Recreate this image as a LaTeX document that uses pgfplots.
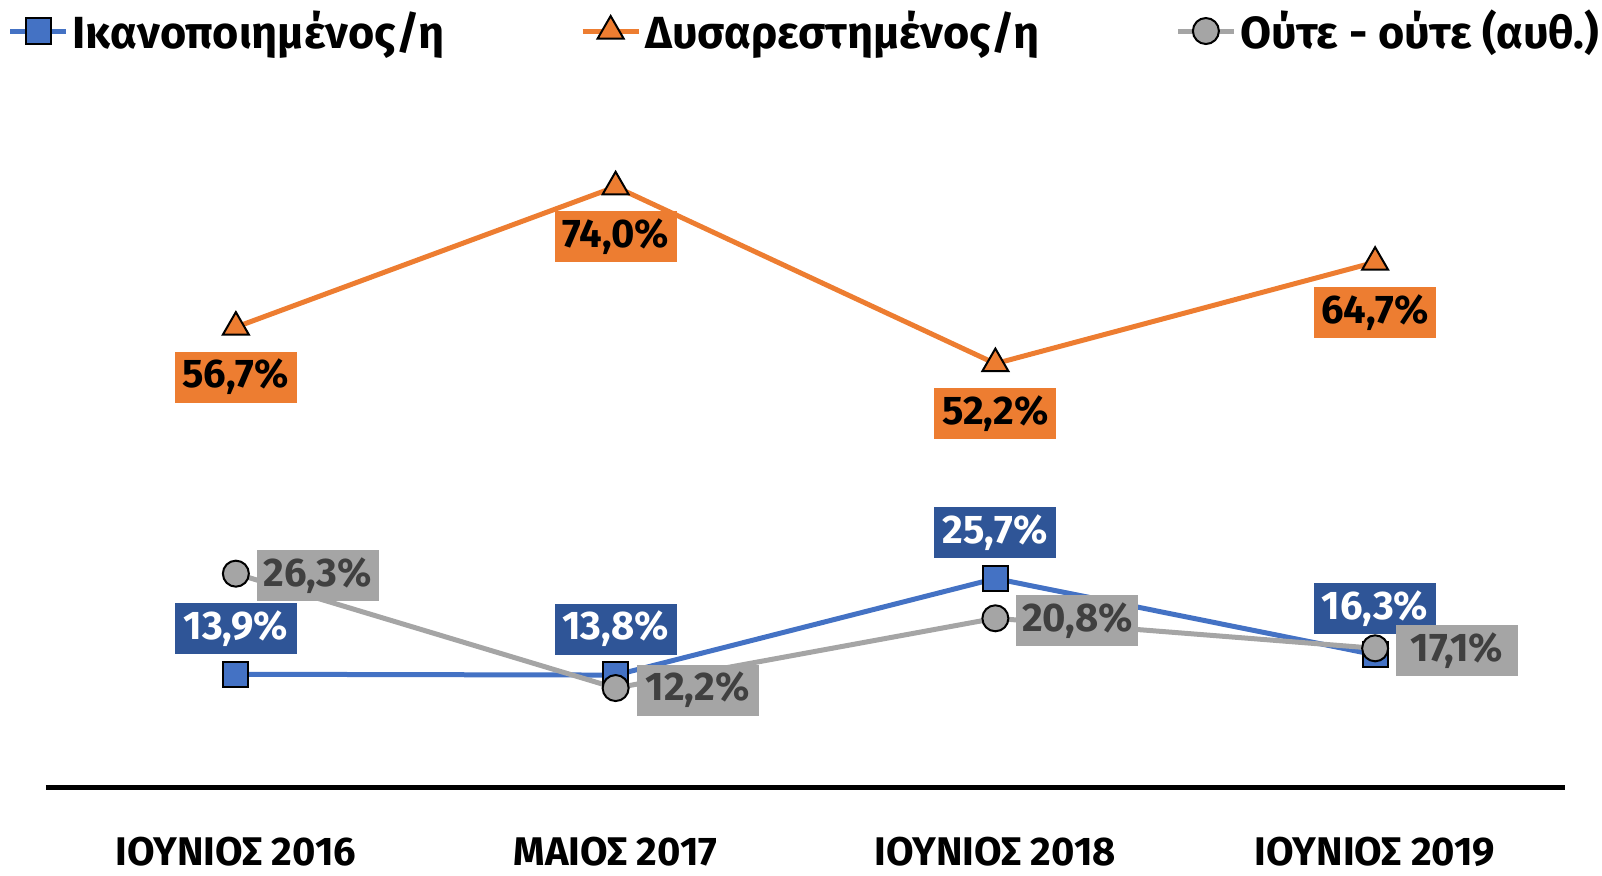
\documentclass[border=0pt]{standalone}
\usepackage{fontspec}
\setmainfont{Fira Sans}
\usepackage{pgfplots}
\pgfplotsset{compat=1.18}
\definecolor{cblue}{HTML}{4472C4}
\definecolor{cblueD}{HTML}{2F5597}
\definecolor{corange}{HTML}{ED7D31}
\definecolor{cgray}{HTML}{A5A5A5}
\definecolor{cgrayT}{HTML}{404040}
\begin{document}
\begin{tikzpicture}
\useasboundingbox (0,0) rectangle (801pt,437.5pt);
\begin{axis}[
  at={(23pt,44pt)}, anchor=south west,
  scale only axis, width=759.5pt, height=365pt,
  xmin=-0.5, xmax=3.5, ymin=0, ymax=90,
  clip=false,
  axis x line*=bottom, axis y line=none,
  x axis line style={line width=2.5pt,-},
  xtick={0,1,2,3},
  xticklabels={ΙΟΥΝΙΟΣ 2016, ΜΑΙΟΣ 2017, ΙΟΥΝΙΟΣ 2018, ΙΟΥΝΙΟΣ 2019},
  major tick length=0pt,
  xticklabel style={anchor=center, yshift=-32.5pt, font=\fontsize{20}{22}\selectfont\bfseries},
  ytick=\empty,
  /pgf/number format/assume math mode=true,
  nodes near coords={\pgfmathprintnumber[fixed,fixed zerofill,precision=1,use comma]{\pgfplotspointmeta}\%},
  every node near coord/.append style={font=\fontsize{20}{22}\selectfont\bfseries, minimum width=61pt, minimum height=25.5pt, inner sep=0pt, anchor=center},
  legend columns=3,
  legend image code/.code={\draw[#1, mark repeat=2, mark phase=2] plot coordinates {(0pt,0pt) (14pt,0pt) (28pt,0pt)};},
  legend style={at={(0.5,1)}, anchor=center, yshift=13pt, draw=none, fill=none,
    font=\fontsize{22.5}{24}\selectfont\bfseries,
    cells={anchor=west, inner xsep=2.5pt},
    /tikz/every even column/.append style={column sep=66pt},
    inner sep=0pt},
]
\addplot[line width=2.5pt, color=cblue, mark=square*, mark size=6.3pt,
  mark options={fill=cblue, draw=black, line width=1pt},
  nodes near coords style={fill=cblueD, text=white, yshift=23pt}]
  coordinates {(0,13.9) (1,13.8) (2,25.7) (3,16.3)};
\addlegendentry{Ικανοποιημένος/η}
\addplot[line width=2.5pt, color=corange, mark=triangle*, mark size=7.5pt,
  mark options={fill=corange, draw=black, line width=1pt},
  nodes near coords style={fill=corange, text=black, yshift=-25pt}]
  coordinates {(0,56.7) (1,74.0) (2,52.2) (3,64.7)};
\addlegendentry{Δυσαρεστημένος/η}
\addplot[line width=2.5pt, color=cgray, mark=*, mark size=6.5pt,
  mark options={fill=cgray, draw=black, line width=1pt},
  nodes near coords style={fill=cgray, text=cgrayT, xshift=41pt, yshift=-1pt}]
  coordinates {(0,26.3) (1,12.2) (2,20.8) (3,17.1)};
\addlegendentry{Ούτε - ούτε (αυθ.)}
\end{axis}
\end{tikzpicture}
\end{document}
